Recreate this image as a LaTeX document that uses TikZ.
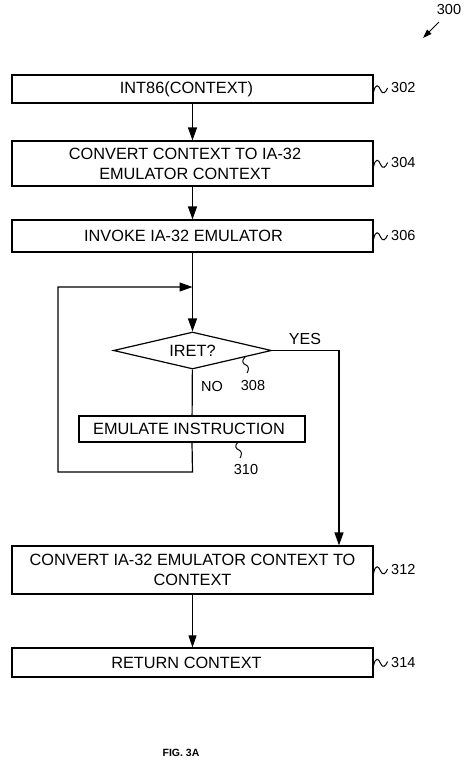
\documentclass[tikz,border=0pt]{standalone}
\usepackage{fontspec}
\setmainfont{Liberation Sans}
\usetikzlibrary{shapes.geometric,arrows.meta}
\begin{document}
\begin{tikzpicture}[x=1pt,y=-1pt,
  box/.style={draw,line width=1.2pt,inner sep=0pt,align=center,font=\fontsize{16.3}{20}\selectfont},
  lbl/.style={inner sep=0pt,font=\fontsize{14.5}{17}\selectfont},
  arr/.style={line width=1.2pt,-{Triangle[length=13pt,width=9pt]}},
  thinarr/.style={line width=0.8pt,-{Triangle[length=12pt,width=8pt]}},
  ln/.style={line width=1.2pt},
  sq/.style={line width=1pt},
  hsquig/.pic={\draw[sq] (0,3) .. controls (2,-6) and (5,-4) .. (7,1) .. controls (9,6) and (12,4) .. (14,-1);},
  vsquig/.pic={\draw[sq] (0,0) .. controls (-4,4) and (-2,7) .. (1,8) .. controls (4,9) and (4,13) .. (2,16);}]
\useasboundingbox (0,0) rectangle (468,764);

% boxes
\node[box,minimum width=361pt,minimum height=28pt] (b302) at (192.5,89) {INT86(CONTEXT)\hspace*{12pt}};
\node[box,minimum width=361pt,minimum height=45pt] (b304) at (192.5,163.5) {CONVERT CONTEXT TO IA-32\hspace*{15pt}\\EMULATOR CONTEXT\hspace*{15pt}};
\node[box,minimum width=361pt,minimum height=32pt] (b306) at (192.5,236) {INVOKE IA-32 EMULATOR\hspace*{18pt}};
\node[draw,line width=1.2pt,shape=diamond,aspect=4.27,minimum width=158pt,minimum height=37pt,inner sep=0pt,font=\fontsize{16.3}{20}\selectfont] (dia) at (192.5,350.5) {IRET?};
\node[box,minimum width=226pt,minimum height=26pt] (emu) at (192,429) {EMULATE INSTRUCTION\hspace*{6pt}};
\node[box,minimum width=361pt,minimum height=48pt] (b312) at (192.5,570) {CONVERT IA-32 EMULATOR CONTEXT TO\\CONTEXT};
\node[box,minimum width=361pt,minimum height=29pt] (b314) at (192.5,662.5) {RETURN CONTEXT\hspace*{12pt}};

% loop coordinates
\coordinate (join) at (192.5,287);
\coordinate (lb) at (192.5,472);
\coordinate (lbl) at (58,472);
\coordinate (ltl) at (58,287);
\coordinate (yes) at (339,350.5);

% connectors
\draw[arr] (b302) -- (b304);
\draw[arr] (b304) -- (b306);
\draw[arr] (b306) -- (dia);
\draw[ln] (dia) -- (emu);
\draw[arr] (emu.south) -- (lb) -- (lbl) -- (ltl) -- (join);
\draw[arr] (dia.east) -- (yes) -- (yes |- b312.north);
\draw[thinarr] (b312) -- (b314);

% branch labels
\node[lbl,font=\fontsize{16}{18}\selectfont] (tyes) at (305,339) {YES};
\node[lbl] (tno) at (212,387) {NO};

% reference numerals
\pic at (b302.east) {hsquig};
\node[lbl,anchor=west] (n302) at (391,88) {302};
\pic at (b304.east) {hsquig};
\node[lbl,anchor=west] (n304) at (391,163) {304};
\pic at (b306.east) {hsquig};
\node[lbl,anchor=west] (n306) at (391,236) {306};
\pic at (b312.east) {hsquig};
\node[lbl,anchor=west] (n312) at (391,570) {312};
\pic at (b314.east) {hsquig};
\node[lbl,anchor=west] (n314) at (391,663) {314};

\pic at (245,357) {vsquig};
\node[lbl] (n308) at (253,386) {308};
\pic at (238,442) {vsquig};
\node[lbl] (n310) at (246,470) {310};

\node[lbl] (n300) at (449,10) {300};
\coordinate (a300) at (423,38);
\draw[line width=1pt,-{Triangle[length=9pt,width=6pt]}] (439,22) -- (a300);

\node[inner sep=0pt,font=\fontsize{10.5}{12}\selectfont\bfseries] (fig) at (181,753) {FIG. 3A};
\end{tikzpicture}
\end{document}
